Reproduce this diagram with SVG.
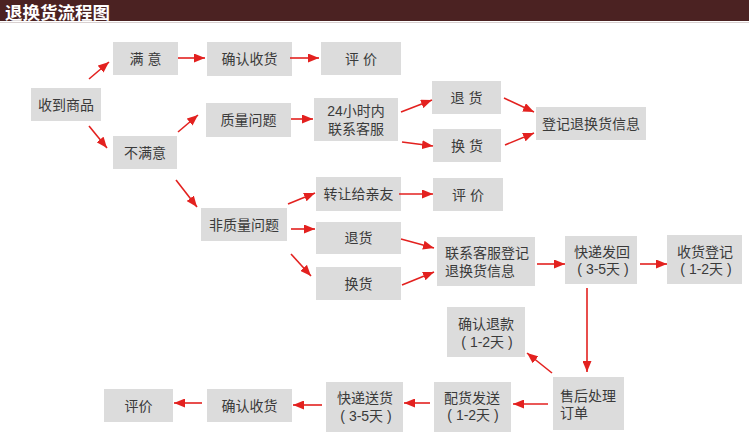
<svg xmlns="http://www.w3.org/2000/svg" width="750" height="437" viewBox="0 0 750 437">
<defs>
<marker id="ah" markerUnits="userSpaceOnUse" markerWidth="11" markerHeight="9" refX="11" refY="4.5" orient="auto">
<path d="M0,0 L11,4.5 L0,9 z" fill="#e3211f"/>
</marker>
</defs>
<style>
.bx{fill:#dcdcdc}
.t{font-family:"Liberation Sans","Noto Sans CJK SC",sans-serif;font-size:14px;fill:#3a3a3a;text-anchor:middle;dominant-baseline:central}
.l{text-anchor:start}
#connectors line{stroke:#e3211f;stroke-width:1.6;marker-end:url(#ah)}
</style>
<rect width="750" height="437" fill="#ffffff"/>
<g id="header">
<rect x="0" y="0" width="749" height="21" fill="#4b2222"/>
<line x1="0" y1="22.5" x2="749" y2="22.5" stroke="#d8d0d0" stroke-width="1"/>
<text x="5" y="11" style="font-family:'Noto Sans CJK SC',sans-serif;font-size:17.5px;font-weight:bold;fill:#ffffff;dominant-baseline:central">退换货流程图</text>
</g>
<g id="n-receive"><rect class="bx" x="31" y="88" width="70" height="33"/><text class="t" x="66" y="104.5">收到商品</text></g>
<g id="n-satisfied"><rect class="bx" x="113" y="42" width="65" height="33"/><text class="t" x="145.5" y="58.5">满 意</text></g>
<g id="n-confirm1"><rect class="bx" x="207" y="42" width="85" height="34"/><text class="t" x="249.5" y="59">确认收货</text></g>
<g id="n-review1"><rect class="bx" x="321" y="42" width="80" height="33"/><text class="t" x="361" y="58.5">评 价</text></g>
<g id="n-unsatisfied"><rect class="bx" x="113" y="136" width="64" height="33"/><text class="t" x="145" y="152.5">不满意</text></g>
<g id="n-quality"><rect class="bx" x="206" y="103" width="85" height="34"/><text class="t" x="248.5" y="120">质量问题</text></g>
<g id="n-contact24"><rect class="bx" x="314" y="98" width="84" height="43"/><text class="t" x="356" y="111">24小时内</text><text class="t" x="356" y="129">联系客服</text></g>
<g id="n-return1"><rect class="bx" x="432" y="81" width="69" height="33"/><text class="t" x="466.5" y="97.5">退 货</text></g>
<g id="n-exchange1"><rect class="bx" x="433" y="129" width="68" height="33"/><text class="t" x="467" y="145.5">换 货</text></g>
<g id="n-register"><rect class="bx" x="536" y="107" width="110" height="33"/><text class="t" x="591" y="123.5">登记退换货信息</text></g>
<g id="n-nonquality"><rect class="bx" x="201" y="208" width="86" height="33"/><text class="t" x="244" y="224.5">非质量问题</text></g>
<g id="n-transfer"><rect class="bx" x="316" y="177" width="85" height="34"/><text class="t" x="358.5" y="194">转让给亲友</text></g>
<g id="n-review2"><rect class="bx" x="433" y="178" width="70" height="33"/><text class="t" x="468" y="194.5">评 价</text></g>
<g id="n-return2"><rect class="bx" x="316" y="222" width="85" height="32"/><text class="t" x="358.5" y="238">退货</text></g>
<g id="n-exchange2"><rect class="bx" x="316" y="267" width="85" height="33"/><text class="t" x="358.5" y="283.5">换货</text></g>
<g id="n-contactreg"><rect class="bx" x="437" y="237" width="98" height="49"/><text class="t l" x="445" y="253">联系客服登记</text><text class="t l" x="445" y="271">退换货信息</text></g>
<g id="n-shipback"><rect class="bx" x="565" y="236" width="72" height="48"/><text class="t" x="602" y="252">快递发回</text><text class="t" x="603" y="269">( 3-5天 )</text></g>
<g id="n-receivereg"><rect class="bx" x="667" y="235" width="75" height="49"/><text class="t" x="705" y="252">收货登记</text><text class="t" x="706" y="269">( 1-2天 )</text></g>
<g id="n-refund"><rect class="bx" x="447" y="307" width="78" height="50"/><text class="t" x="486" y="324">确认退款</text><text class="t" x="487" y="342">( 1-2天 )</text></g>
<g id="n-aftersale"><rect class="bx" x="553" y="377" width="71" height="53"/><text class="t l" x="560" y="396">售后处理</text><text class="t l" x="560" y="413">订单</text></g>
<g id="n-dispatch"><rect class="bx" x="434" y="382" width="77" height="50"/><text class="t" x="472" y="398">配货发送</text><text class="t" x="473" y="415">( 1-2天 )</text></g>
<g id="n-deliver"><rect class="bx" x="326" y="382" width="77" height="50"/><text class="t" x="365" y="398">快递送货</text><text class="t" x="366" y="416">( 3-5天 )</text></g>
<g id="n-confirm2"><rect class="bx" x="207" y="389" width="85" height="33"/><text class="t" x="249.5" y="405.5">确认收货</text></g>
<g id="n-review3"><rect class="bx" x="104" y="389" width="69" height="33"/><text class="t" x="138.5" y="405.5">评价</text></g>
<g id="connectors">
<line x1="89" y1="79" x2="109" y2="62"/>
<line x1="89" y1="126" x2="107" y2="148"/>
<line x1="178" y1="58" x2="205" y2="58"/>
<line x1="290" y1="58" x2="319" y2="58"/>
<line x1="178" y1="132" x2="198" y2="115"/>
<line x1="291" y1="119" x2="313" y2="119"/>
<line x1="401" y1="112" x2="432" y2="100"/>
<line x1="402" y1="142" x2="433" y2="146"/>
<line x1="504" y1="98" x2="534" y2="112"/>
<line x1="505" y1="145" x2="534" y2="133"/>
<line x1="176" y1="180" x2="197" y2="207"/>
<line x1="288" y1="204" x2="315" y2="193"/>
<line x1="291" y1="229" x2="315" y2="229"/>
<line x1="291" y1="254" x2="311" y2="276"/>
<line x1="399" y1="194" x2="433" y2="194"/>
<line x1="401" y1="239" x2="434" y2="248"/>
<line x1="402" y1="285" x2="434" y2="272"/>
<line x1="537" y1="264" x2="565" y2="264"/>
<line x1="640" y1="264" x2="667" y2="264"/>
<line x1="587" y1="288" x2="587" y2="372"/>
<line x1="552" y1="373" x2="527" y2="353"/>
<line x1="548" y1="404" x2="513" y2="404"/>
<line x1="430" y1="403" x2="404" y2="403"/>
<line x1="322" y1="405" x2="293" y2="405"/>
<line x1="202" y1="403" x2="174" y2="403"/>
</g>
</svg>
